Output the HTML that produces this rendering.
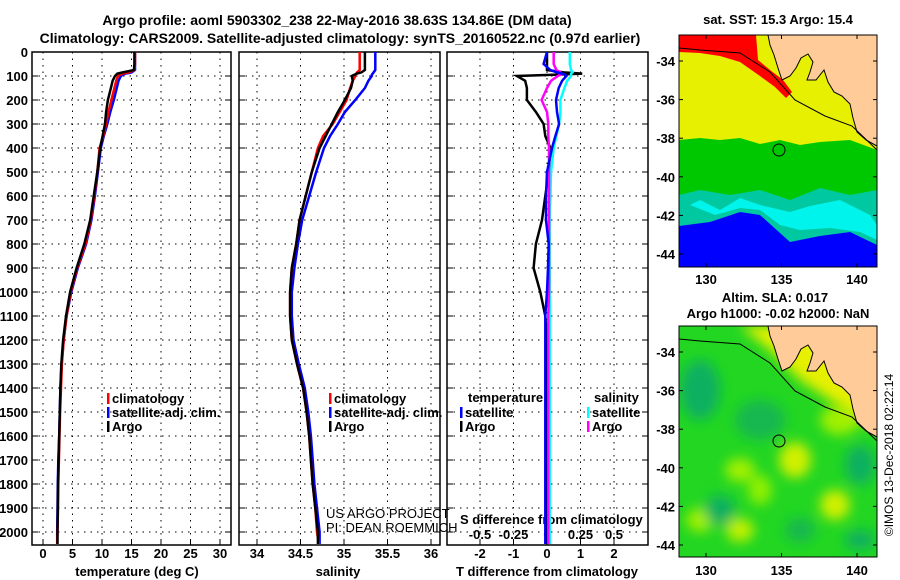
<!DOCTYPE html>
<html><head><meta charset="utf-8"><style>
body{margin:0;background:#fff;}
svg{display:block;font-family:"Liberation Sans",sans-serif;}
.b{font-weight:bold;font-size:13px;}
.t{font-weight:bold;font-size:14px;}
</style></head><body>
<svg id="s" width="900" height="580" xmlns="http://www.w3.org/2000/svg">
<defs>
<clipPath id="c1"><rect x="32" y="52" width="199" height="493"/></clipPath>
<clipPath id="c2"><rect x="239" y="52" width="201" height="493"/></clipPath>
<clipPath id="c3"><rect x="447" y="52" width="201" height="493"/></clipPath>
<clipPath id="m1"><rect x="679" y="35" width="198" height="232"/></clipPath>
<clipPath id="m2"><rect x="679" y="326" width="198" height="231"/></clipPath>
<filter id="bl" x="-50%" y="-50%" width="200%" height="200%"><feGaussianBlur stdDeviation="6"/></filter>
</defs>
<text class="t" x="337" y="25" text-anchor="middle">Argo profile: aoml 5903302_238 22-May-2016 38.63S 134.86E (DM data)</text>
<text class="t" x="340" y="43" text-anchor="middle">Climatology: CARS2009. Satellite-adjusted climatology: synTS_20160522.nc (0.97d earlier)</text>

<!-- SST map -->
<g clip-path="url(#m1)">
<rect x="679" y="35" width="198" height="232" fill="#0000ff"/>
<path d="M679,35H877V245L850,232L820,236L790,242L760,215L740,212L710,222L679,226Z" fill="#00c8a0"/>
<path d="M690,205L700,200L720,210L740,198L760,205L790,212L810,206L840,200L870,215L877,225V240L860,232L830,228L800,230L780,225L760,210L740,208L715,215Z" fill="#00ffff" opacity="0.8"/>
<path d="M679,35H877V190L850,195L820,188L790,200L760,190L730,195L700,190L679,195Z" fill="#00c800"/>
<path d="M679,35H877V150L850,140L820,142L800,145L780,140L760,144L740,138L720,140L700,138L679,140Z" fill="#e6f000"/>
<path d="M679,35H756L758,60L770,70L783,80L792,92L786,98L775,87L760,76L740,62L720,56L700,53L679,52Z" fill="#ff0000"/>
<path d="M768,35L770,45L774,55L778,68L782,80L790,76L796,68L801,58L808,54L813,62L810,72L807,80L816,80L824,70L828,82L834,92L842,96L850,104L853,118L857,132L866,140L877,146V35Z" fill="#ffcc99" stroke="#000" stroke-width="1"/>
<path d="M679,48L700,50L740,53L770,72L795,100L825,116L852,126L877,150" fill="none" stroke="#000" stroke-width="1"/>
<circle cx="779" cy="150" r="6" fill="none" stroke="#000" stroke-width="1"/>
</g>
<rect x="679" y="35" width="198" height="232" fill="none" stroke="#000"/>
<text class="b" x="778" y="24" text-anchor="middle">sat. SST: 15.3 Argo: 15.4</text>

<!-- SLA map -->
<g clip-path="url(#m2)">
<rect x="679" y="326" width="198" height="231" fill="#22d622"/>
<g filter="url(#bl)">
<ellipse cx="700" cy="390" rx="20" ry="30" fill="#10b060"/>
<ellipse cx="760" cy="420" rx="25" ry="20" fill="#18b850"/>
<ellipse cx="740" cy="470" rx="15" ry="12" fill="#a0f000"/>
<ellipse cx="795" cy="460" rx="16" ry="18" fill="#d0f000"/>
<ellipse cx="760" cy="490" rx="12" ry="15" fill="#90f000"/>
<ellipse cx="835" cy="505" rx="15" ry="15" fill="#d0f000"/>
<ellipse cx="700" cy="520" rx="14" ry="12" fill="#a0f000"/>
<ellipse cx="740" cy="530" rx="14" ry="12" fill="#c0f000"/>
<ellipse cx="800" cy="530" rx="15" ry="12" fill="#18b850"/>
<ellipse cx="860" cy="465" rx="15" ry="20" fill="#10b060"/>
<ellipse cx="720" cy="510" rx="15" ry="15" fill="#10b060"/>
<ellipse cx="860" cy="540" rx="15" ry="10" fill="#10b060"/>
<ellipse cx="840" cy="420" rx="20" ry="15" fill="#a0f000"/>
</g>
<path d="M740,326L770,350L800,380L830,400L860,420L877,430V326Z" fill="#e6f000" filter="url(#bl)"/>
<path d="M768,326L770,336L774,346L778,359L782,371L790,367L796,359L801,349L808,345L813,353L810,363L807,371L816,371L824,361L828,373L834,383L842,387L850,395L853,409L857,423L866,431L877,437V326Z" fill="#ffcc99" stroke="#000" stroke-width="1"/>
<path d="M679,339L700,341L740,344L770,363L795,391L825,407L852,417L877,441" fill="none" stroke="#000" stroke-width="1"/>
<circle cx="779" cy="441" r="6" fill="none" stroke="#000" stroke-width="1"/>
</g>
<rect x="679" y="326" width="198" height="231" fill="none" stroke="#000"/>
<text class="b" x="775" y="302" text-anchor="middle">Altim. SLA: 0.017</text>
<text class="b" x="778" y="318" text-anchor="middle">Argo h1000: -0.02 h2000: NaN</text>
<text x="893" y="455" font-size="12" text-anchor="middle" transform="rotate(-90 893 455)">©IMOS 13-Dec-2018 02:22:14</text>

<text x="326" y="518" font-size="13">US ARGO PROJECT</text>
<text x="326" y="532" font-size="13">PI: DEAN ROEMMICH</text>
<g id="g"></g>
</svg>
<script>
const depths=[0,50,75,85,90,95,100,120,150,200,250,300,350,400,500,600,700,800,900,1000,1100,1200,1300,1400,1500,1600,1700,1800,1900,2000,2050];
const tempArgo=[15.5,15.5,15.4,13.5,12.6,12.4,12.2,11.8,11.5,11.0,10.7,10.5,10.1,9.7,9.2,8.6,8.0,7.0,5.7,4.6,3.9,3.4,3.1,2.95,2.85,2.75,2.65,2.55,2.5,2.45,2.45];
const tempClim=[15.6,15.6,15.5,14.5,13.5,13.0,12.7,12.4,12.1,11.6,11.1,10.7,10.2,9.6,9.2,8.7,8.1,7.2,5.8,4.7,4.0,3.5,3.2,3.05,2.9,2.8,2.7,2.6,2.55,2.45,2.4];
const tempSat=[15.6,15.6,15.6,15.0,14.0,13.5,13.2,12.8,12.5,12.0,11.4,10.9,10.3,9.8,9.3,8.8,8.2,7.3,5.9,4.8,4.0,3.5,3.15,2.95,2.85,2.75,2.6,2.5,2.45,2.4,2.4];
const salArgo=[35.24,35.24,35.24,35.2,35.15,35.12,35.09,35.1,35.08,35.01,34.93,34.86,34.79,34.72,34.63,34.56,34.49,34.45,34.4,34.38,34.38,34.4,34.46,34.53,34.57,34.6,34.62,34.64,34.67,34.7,34.7];
const salClim=[35.18,35.18,35.18,35.15,35.14,35.13,35.13,35.1,35.07,35.03,34.95,34.87,34.76,34.7,34.63,34.56,34.49,34.45,34.4,34.38,34.38,34.4,34.46,34.53,34.57,34.6,34.62,34.64,34.67,34.69,34.71];
const salSat=[35.36,35.36,35.36,35.34,35.33,35.32,35.32,35.28,35.24,35.13,35.01,34.93,34.84,34.77,34.68,34.6,34.52,34.47,34.43,34.4,34.4,34.42,34.48,34.55,34.59,34.62,34.64,34.66,34.69,34.72,34.72];
const tDiffArgo=[0,0,0,0.5,1.05,0.2,-0.9,-0.65,-0.6,-0.6,-0.33,-0.1,-0.05,0.1,0.05,-0.05,-0.15,-0.33,-0.4,-0.2,-0.05,0,0,0,0,0,0,0,0,0,0];
const tDiffSat=[0,-0.1,0.1,0.3,0.45,0.55,0.58,0.45,0.35,0.27,0.3,0.36,0.25,0.15,0,-0.03,-0.03,0.05,0.03,0,-0.05,-0.05,-0.05,-0.05,-0.05,-0.05,-0.05,-0.05,-0.05,-0.05,-0.05];
const sDiffArgo=[0.05,0.05,0.07,0.1,0.11,0.1,0.08,0.03,0,-0.04,0,0.01,0.01,0.015,0.015,0.015,0.015,0.015,0.015,0.015,0.01,0.01,0.01,0.01,0.01,0.01,0.01,0.01,0.01,0.01,0.01];
const sDiffSat=[0.17,0.17,0.18,0.19,0.18,0.18,0.18,0.15,0.13,0.1,0.1,0.09,0.07,0.05,0.03,0.025,0.02,0.02,0.02,0.02,0.02,0.02,0.02,0.02,0.02,0.02,0.02,0.02,0.02,0.02,0.02];
const depthTicks=[0,100,200,300,400,500,600,700,800,900,1000,1100,1200,1300,1400,1500,1600,1700,1800,1900,2000];
const tempTicks=[0,5,10,15,20,25,30];
const salTicks=[34,34.5,35,35.5,36];
const tdTicks=[-2,-1,0,1,2];
const sdTicks=[-0.5,-0.25,0,0.25,0.5];
const tdLabels=["-2","-1","0","1","2"];
const sdLabels=["-0.5","-0.25","0","0.25","0.5"];
const latTicks=[-34,-36,-38,-40,-42,-44];
const lonTicks=[130,135,140];

const NS='http://www.w3.org/2000/svg';
const G=document.getElementById('g');
function mk(t,a,p){const e=document.createElementNS(NS,t);for(const k in a)e.setAttribute(k,a[k]);(p||G).appendChild(e);return e;}
const yD=d=>52+d*0.24;
const xT=v=>43+v*5.9;
const xS=v=>257+(v-34)*87;
const xTD=v=>547+v*33.5;
const xSD=v=>547+v*134;
const panels=[[32,199,'c1','temperature-panel'],[239,201,'c2','salinity-panel'],[447,201,'c3','difference-panel']];
panels.forEach((p,i)=>{
  const g=mk('g',{});
  
  
  const xs=i==0?tempTicks.map(xT):i==1?salTicks.map(xS):tdTicks.map(xTD);
  xs.forEach(x=>{const l=mk('line',{x1:x,x2:x,y1:52,y2:545,stroke:'#000','stroke-dasharray':'1.5,5'},g);
    
    mk('line',{x1:x,x2:x,y1:545,y2:539,stroke:'#000'},g);});
  depthTicks.forEach(d=>{const y=yD(d);
    const l=mk('line',{x1:p[0],x2:p[0]+p[1],y1:y,y2:y,stroke:'#000','stroke-dasharray':'1.5,5'},g);
    
    mk('line',{x1:p[0],x2:p[0]+6,y1:y,y2:y,stroke:'#000'},g);
    mk('line',{x1:p[0]+p[1]-6,x2:p[0]+p[1],y1:y,y2:y,stroke:'#000'},g);});
  const r=mk('rect',{x:p[0],y:52,width:p[1],height:493,fill:'none',stroke:'#000','stroke-width':1.5},g);
  
});
depthTicks.forEach(d=>{const t=mk('text',{x:28,y:yD(d)+5,'text-anchor':'end',class:'b'});t.textContent=d;
  });
function xl(arr,f,labs,y){arr.forEach((v,i)=>{const t=mk('text',{x:f(v),y:y,'text-anchor':'middle',class:'b'});t.textContent=labs?labs[i]:v;
  });}
xl(tempTicks,xT,null,558);xl(salTicks,xS,null,558);xl(tdTicks,xTD,tdLabels,558);xl(sdTicks,xSD,sdLabels,539);
function lab(x,y,s,name,anchor,cls){const t=mk('text',{x:x,y:y,'text-anchor':anchor||'middle',class:cls||'b'});t.textContent=s;
  return t;}
lab(137,576,'temperature (deg C)','x-axis-title-temperature');
lab(338,576,'salinity','x-axis-title-salinity');
lab(547,576,'T difference from climatology','x-axis-title-t-diff');
lab(460,524,'S difference from climatology','s-diff-axis-title','start');
function line(arr,f,col,clip,name,w){const g=mk('g',{'clip-path':'url(#'+clip+')'});
  const pts=depths.map((d,i)=>f(arr[i]).toFixed(1)+','+yD(d).toFixed(1)).join(' ');
  const l=mk('polyline',{points:pts,fill:'none',stroke:col,'stroke-width':w||2.5,'stroke-linejoin':'miter'},g);
  }
line(tempSat,xT,'#0000ff','c1','temp-satellite-line');
line(tempClim,xT,'#ff0000','c1','temp-climatology-line');
line(tempArgo,xT,'#000','c1','temp-argo-line');
line(salSat,xS,'#0000ff','c2','sal-satellite-line');
line(salClim,xS,'#ff0000','c2','sal-climatology-line');
line(salArgo,xS,'#000','c2','sal-argo-line');
line(tDiffArgo,xTD,'#000','c3','t-diff-argo-line');
line(sDiffSat,xSD,'#00ffff','c3','s-diff-satellite-line');
line(sDiffArgo,xSD,'#ff00ff','c3','s-diff-argo-line');
line(tDiffSat,xTD,'#0000ff','c3','t-diff-satellite-line');
function leg(x,y,col,s,name){const r=mk('rect',{x:x,y:y-10,width:2.5,height:11,fill:col});
  
  lab(x+5,y,s,name,'start');}
leg(107,403,'#ff0000','climatology','legend-temp-climatology');
leg(107,417,'#0000ff','satellite-adj. clim.','legend-temp-satellite');
leg(107,431,'#000','Argo','legend-temp-argo');
leg(329,403,'#ff0000','climatology','legend-sal-climatology');
leg(329,417,'#0000ff','satellite-adj. clim.','legend-sal-satellite');
leg(329,431,'#000','Argo','legend-sal-argo');
lab(468,402,'temperature','legend-temp-heading','start');
leg(460,417,'#0000ff','satellite','legend-tdiff-satellite');
leg(460,431,'#000','Argo','legend-tdiff-argo');
lab(594,402,'salinity','legend-sal-heading','start');
leg(587,417,'#00ffff','satellite','legend-sdiff-satellite');
leg(587,431,'#ff00ff','Argo','legend-sdiff-argo');
// map ticks
[[61,254,'sst',284,35,267],[352,545,'sla',575,326,557]].forEach(m=>{
  const ky=(m[1]-m[0])/10;
  latTicks.forEach(la=>{const y=m[0]+(-34-la)*ky;
    lab(675,y+5,String(la),m[2]+'-lat-label','end');
    mk('line',{x1:679,x2:683,y1:y,y2:y,stroke:'#000'});mk('line',{x1:873,x2:877,y1:y,y2:y,stroke:'#000'});});
  lonTicks.forEach(lo=>{const x=706+(lo-130)*15.1;
    lab(x,m[3],String(lo),m[2]+'-lon-label');
    mk('line',{x1:x,x2:x,y1:m[4],y2:m[4]+4,stroke:'#000'});mk('line',{x1:x,x2:x,y1:m[5]-4,y2:m[5],stroke:'#000'});});
});
</script>
</body></html>
